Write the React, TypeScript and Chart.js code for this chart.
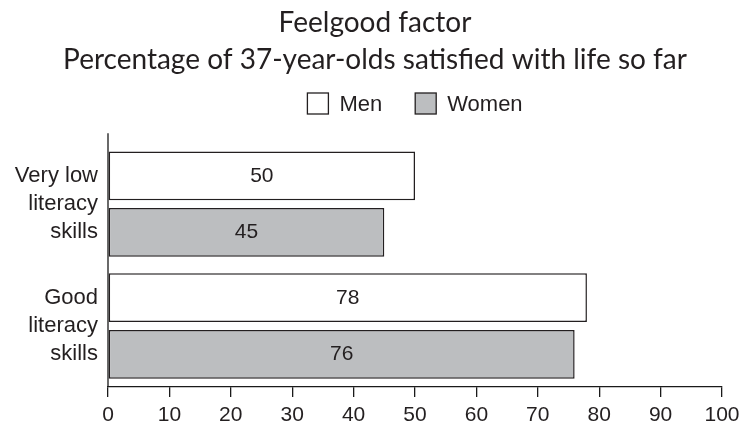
import React, { useEffect, useRef } from 'react';
import { Chart, registerables } from 'chart.js';

Chart.register(...registerables);

const categories: string[][] = [
  ['Very low', 'literacy', 'skills'],
  ['Good', 'literacy', 'skills'],
];
const seriesNames = ['Men', 'Women'];
const menValues = [50, 78];
const womenValues = [45, 76];
const xMin = 0;
const xMax = 100;
const xStep = 10;
const titleText = 'Feelgood factor';
const subtitleText = 'Percentage of 37-year-olds satisfied with life so far';

const INK = '#231f20';
const AXIS = '#1a1a1a';
const WHITE = '#ffffff';
const GREY = '#bcbec0';
const SANS = '"Liberation Sans", Arial, sans-serif';
const TITLE_FONT = 'Lato, "Open Sans", sans-serif';

const valueLabels = {
  id: 'valueLabels',
  afterDatasetsDraw(chart: any) {
    const ctx = chart.ctx;
    ctx.save();
    ctx.font = `21px ${SANS}`;
    ctx.fillStyle = INK;
    ctx.textAlign = 'center';
    ctx.textBaseline = 'middle';
    chart.data.datasets.forEach((ds: any, i: number) => {
      const meta = chart.getDatasetMeta(i);
      meta.data.forEach((bar: any, j: number) => {
        const p = bar.getProps(['x', 'y', 'base'], true);
        ctx.fillText(String(ds.data[j]), (p.x + p.base) / 2, p.y);
      });
    });
    ctx.restore();
  },
};

const yAxisLine = {
  id: 'yAxisLine',
  afterDraw(chart: any) {
    const { ctx, chartArea } = chart;
    ctx.save();
    ctx.strokeStyle = AXIS;
    ctx.lineWidth = 1.3;
    ctx.beginPath();
    ctx.moveTo(chartArea.left, chartArea.top - 10);
    ctx.lineTo(chartArea.left, chartArea.bottom);
    ctx.stroke();
    ctx.restore();
  },
};

const customLegend = {
  id: 'customLegend',
  afterDraw(chart: any) {
    const { ctx, chartArea } = chart;
    const box = 21;
    const gapText = 11;
    const gapItem = 33;
    const cy = 103.5;
    ctx.save();
    ctx.font = `22px ${SANS}`;
    const items = chart.data.datasets.map((ds: any) => ({
      label: ds.label,
      fill: ds.backgroundColor,
      w: box + gapText + ctx.measureText(ds.label).width,
    }));
    const total = items.reduce((s: number, it: any) => s + it.w, 0) + gapItem * (items.length - 1);
    let x = (chartArea.left + chartArea.right) / 2 - total / 2;
    items.forEach((it: any) => {
      ctx.fillStyle = it.fill;
      ctx.fillRect(x, cy - box / 2, box, box);
      ctx.strokeStyle = INK;
      ctx.lineWidth = 1.3;
      ctx.strokeRect(x, cy - box / 2, box, box);
      ctx.fillStyle = INK;
      ctx.textAlign = 'left';
      ctx.textBaseline = 'middle';
      ctx.fillText(it.label, x + box + gapText, cy + 1);
      x += it.w + gapItem;
    });
    ctx.restore();
  },
};

export default function App() {
  const ref = useRef<HTMLCanvasElement | null>(null);
  useEffect(() => {
    document.body.style.margin = '0';
    const canvas = ref.current;
    if (!canvas) return;
    const chart = new Chart(canvas, {
      type: 'bar',
      data: {
        labels: categories,
        datasets: [
          {
            label: seriesNames[0],
            data: menValues,
            backgroundColor: WHITE,
            borderColor: INK,
            borderWidth: 1.5,
            borderSkipped: false,
            categoryPercentage: 0.93,
            barPercentage: 0.86,
          },
          {
            label: seriesNames[1],
            data: womenValues,
            backgroundColor: GREY,
            borderColor: INK,
            borderWidth: 1.5,
            borderSkipped: false,
            categoryPercentage: 0.93,
            barPercentage: 0.86,
          },
        ],
      },
      options: {
        indexAxis: 'y',
        responsive: false,
        animation: false,
        devicePixelRatio: 1,
        layout: { padding: { left: 8, right: 0, top: 0, bottom: 0 } },
        plugins: {
          legend: { display: false },
          tooltip: { enabled: false },
          title: {
            display: true,
            text: titleText,
            color: INK,
            font: { family: TITLE_FONT, size: 28, weight: 'normal' },
            padding: { top: 6, bottom: 0 },
          },
          subtitle: {
            display: true,
            text: subtitleText,
            color: INK,
            font: { family: TITLE_FONT, size: 28, weight: 'normal' },
            padding: { top: 4, bottom: 66 },
          },
        },
        scales: {
          x: {
            type: 'linear',
            min: xMin,
            max: xMax,
            ticks: {
              stepSize: xStep,
              color: INK,
              font: { family: SANS, size: 21 },
              padding: 6,
            },
            grid: {
              display: true,
              drawOnChartArea: false,
              drawTicks: true,
              tickLength: 10,
              color: AXIS,
              lineWidth: 1.3,
            },
            border: { display: true, color: AXIS, width: 1.3 },
            afterFit(scale: any) {
              scale.height = 40;
              scale.paddingLeft = 0;
              scale.paddingRight = 0;
            },
          },
          y: {
            type: 'category',
            ticks: {
              color: INK,
              font: { family: SANS, size: 22, lineHeight: 1.27 },
              padding: 10,
            },
            grid: { display: false, drawTicks: false },
            border: { display: false },
            afterFit(scale: any) {
              scale.width = 100;
              scale.paddingTop = 0;
              scale.paddingBottom = 0;
            },
          },
          rightGap: {
            type: 'linear',
            position: 'right',
            display: true,
            ticks: { display: false },
            grid: { display: false, drawTicks: false },
            border: { display: false },
            afterFit(scale: any) {
              scale.width = 20;
              scale.paddingTop = 0;
              scale.paddingBottom = 0;
            },
          },
        },
      },
      plugins: [valueLabels, yAxisLine, customLegend],
    } as any);
    return () => chart.destroy();
  }, []);
  return (
    <div style={{ position: 'relative', width: 742, height: 427 }}>
      <canvas ref={ref} width={742} height={427} style={{ display: 'block' }} />
    </div>
  );
}
